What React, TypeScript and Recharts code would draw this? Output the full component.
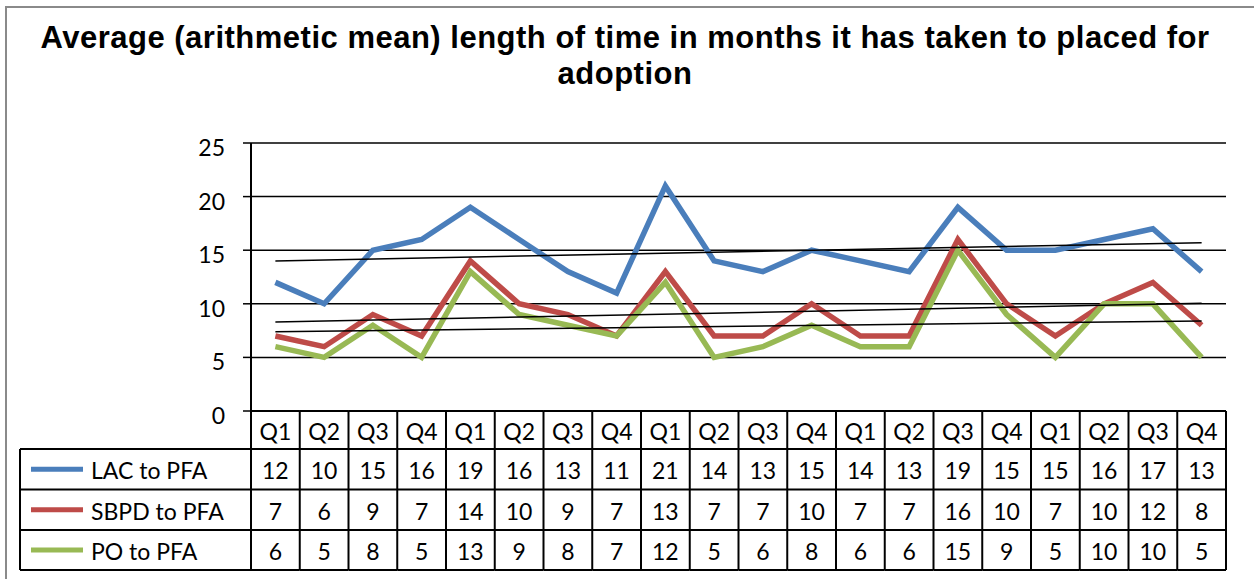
import React from 'react';
import { LineChart, Line, XAxis, YAxis, CartesianGrid } from 'recharts';

const quarters = ['Q1', 'Q2', 'Q3', 'Q4', 'Q1', 'Q2', 'Q3', 'Q4', 'Q1', 'Q2', 'Q3', 'Q4', 'Q1', 'Q2', 'Q3', 'Q4', 'Q1', 'Q2', 'Q3', 'Q4'];
const lacToPfa = [12, 10, 15, 16, 19, 16, 13, 11, 21, 14, 13, 15, 14, 13, 19, 15, 15, 16, 17, 13];
const sbpdToPfa = [7, 6, 9, 7, 14, 10, 9, 7, 13, 7, 7, 10, 7, 7, 16, 10, 7, 10, 12, 8];
const poToPfa = [6, 5, 8, 5, 13, 9, 8, 7, 12, 5, 6, 8, 6, 6, 15, 9, 5, 10, 10, 5];
// trend line endpoints (first and last quarter)
const lacTrendEnds = [14.0, 15.7];
const sbpdTrendEnds = [8.3, 10.05];
const poTrendEnds = [7.4, 8.4];
const yTicks = [0, 5, 10, 15, 20, 25];
const seriesNames = ['LAC to PFA', 'SBPD to PFA', 'PO to PFA'];

const W = 1254;
const H = 579;
const PLOT_LEFT = 251;
const PLOT_RIGHT = 1226;
const PLOT_TOP = 143;
const PLOT_BOTTOM = 411;
const Y_AXIS_W = 60;
const X_AXIS_H = 160;
const COL_W = (PLOT_RIGHT - PLOT_LEFT) / quarters.length;
const TABLE_LEFT = 20;

const BLUE = '#4A7EBB';
const RED = '#BE4B48';
const GREEN = '#98B954';
const FONT = 'Lato, "Open Sans", sans-serif';
const TXT = 23;

const n = quarters.length;
const trend = (ends: number[], i: number) => (i === 0 ? ends[0] : i === n - 1 ? ends[1] : null);
const data = quarters.map((q, i) => ({
  idx: i,
  q,
  lac: lacToPfa[i],
  sbpd: sbpdToPfa[i],
  po: poToPfa[i],
  lacTrend: trend(lacTrendEnds, i),
  sbpdTrend: trend(sbpdTrendEnds, i),
  poTrend: trend(poTrendEnds, i),
}));

const seriesValues = [lacToPfa, sbpdToPfa, poToPfa];
const seriesColors = [BLUE, RED, GREEN];

const TableTick = (props: any) => {
  const { x, y, payload } = props;
  const i = Number(payload.value);
  const l = x - COL_W / 2;
  const r = x + COL_W / 2;
  const rows = [y, y + 38, y + 78.5, y + 119, y + 159];
  const sw = 2;
  const els: any[] = [];
  els.push(<line key="vl" x1={l} x2={l} y1={rows[0]} y2={rows[4]} stroke="#000" strokeWidth={sw} />);
  if (i === n - 1) {
    els.push(<line key="vr" x1={r} x2={r} y1={rows[0]} y2={rows[4]} stroke="#000" strokeWidth={sw} />);
  }
  rows.forEach((ry, k) => {
    els.push(<line key={'h' + k} x1={l} x2={r} y1={ry} y2={ry} stroke="#000" strokeWidth={sw} />);
  });
  els.push(
    <text key="q" x={x} y={(rows[0] + rows[1]) / 2 + 1} textAnchor="middle" dominantBaseline="central" fontFamily={FONT} fontSize={TXT} fill="#000">
      {quarters[i]}
    </text>
  );
  seriesValues.forEach((vals, k) => {
    els.push(
      <text key={'v' + k} x={x} y={(rows[k + 1] + rows[k + 2]) / 2 + 1} textAnchor="middle" dominantBaseline="central" fontFamily={FONT} fontSize={TXT} fill="#000">
        {vals[i]}
      </text>
    );
  });
  if (i === 0) {
    els.push(<line key="ll" x1={TABLE_LEFT} x2={TABLE_LEFT} y1={rows[1]} y2={rows[4]} stroke="#000" strokeWidth={sw} />);
    [1, 2, 3, 4].forEach((k) => {
      els.push(<line key={'lh' + k} x1={TABLE_LEFT} x2={l} y1={rows[k]} y2={rows[k]} stroke="#000" strokeWidth={sw} />);
    });
    seriesNames.forEach((name, k) => {
      const cy = (rows[k + 1] + rows[k + 2]) / 2;
      els.push(<line key={'sw' + k} x1={31} x2={83} y1={cy} y2={cy} stroke={seriesColors[k]} strokeWidth={5} />);
      els.push(
        <text key={'ln' + k} x={91} y={cy + 1} textAnchor="start" dominantBaseline="central" fontFamily={FONT} fontSize={TXT} fill="#000">
          {name}
        </text>
      );
    });
  }
  return <g>{els}</g>;
};

const YTick = (props: any) => {
  const { x, y, payload } = props;
  return (
    <text x={x} y={y + 4} textAnchor="end" dominantBaseline="central" fontFamily={FONT} fontSize={TXT} fill="#000">
      {payload.value}
    </text>
  );
};

export default function App() {
  return (
    <div style={{ position: 'absolute', left: 0, top: 0, width: W, height: H, background: '#fff', overflow: 'hidden' }}>
      <div
        style={{
          position: 'absolute',
          left: 5,
          top: 6,
          width: W + 20,
          height: H + 20,
          border: '2px solid #8a8a8a',
          boxSizing: 'border-box',
        }}
      />
      <div
        style={{
          position: 'absolute',
          left: 0,
          top: 20,
          width: 1250,
          textAlign: 'center',
          fontFamily: '"Liberation Sans", Arial, sans-serif',
          fontWeight: 'bold',
          fontSize: 31,
          letterSpacing: '0.5px',
          lineHeight: '36px',
          color: '#000',
          whiteSpace: 'nowrap',
        }}
      >
        Average (arithmetic mean) length of time in months it has taken to placed for
        <br />
        adoption
      </div>
      <div style={{ position: 'absolute', left: 0, top: 0 }}>
        <LineChart
          width={W}
          height={H}
          data={data}
          margin={{ top: PLOT_TOP, right: W - PLOT_RIGHT, left: PLOT_LEFT - Y_AXIS_W, bottom: H - PLOT_BOTTOM - X_AXIS_H }}
        >
          <CartesianGrid horizontal vertical={false} stroke="#000" strokeWidth={1.5} />
          <XAxis
            dataKey="idx"
            type="category"
            height={X_AXIS_H}
            interval={0}
            padding={{ left: COL_W / 2, right: COL_W / 2 }}
            tickLine={false}
            axisLine={false}
            tickSize={0}
            tickMargin={0}
            tick={<TableTick />}
          />
          <YAxis
            width={Y_AXIS_W}
            domain={[0, 25]}
            ticks={yTicks}
            interval={0}
            tickSize={8}
            tickMargin={18}
            axisLine={{ stroke: '#000', strokeWidth: 2 }}
            tickLine={{ stroke: '#000', strokeWidth: 1.5 }}
            tick={<YTick />}
          />
          <Line dataKey="lac" stroke={BLUE} strokeWidth={5.5} dot={false} isAnimationActive={false} strokeLinejoin="miter" />
          <Line dataKey="sbpd" stroke={RED} strokeWidth={5.5} dot={false} isAnimationActive={false} strokeLinejoin="miter" />
          <Line dataKey="po" stroke={GREEN} strokeWidth={5.5} dot={false} isAnimationActive={false} strokeLinejoin="miter" />
          <Line dataKey="lacTrend" stroke="#000" strokeWidth={1.5} dot={false} connectNulls isAnimationActive={false} />
          <Line dataKey="sbpdTrend" stroke="#000" strokeWidth={1.5} dot={false} connectNulls isAnimationActive={false} />
          <Line dataKey="poTrend" stroke="#000" strokeWidth={1.5} dot={false} connectNulls isAnimationActive={false} />
        </LineChart>
      </div>
    </div>
  );
}
